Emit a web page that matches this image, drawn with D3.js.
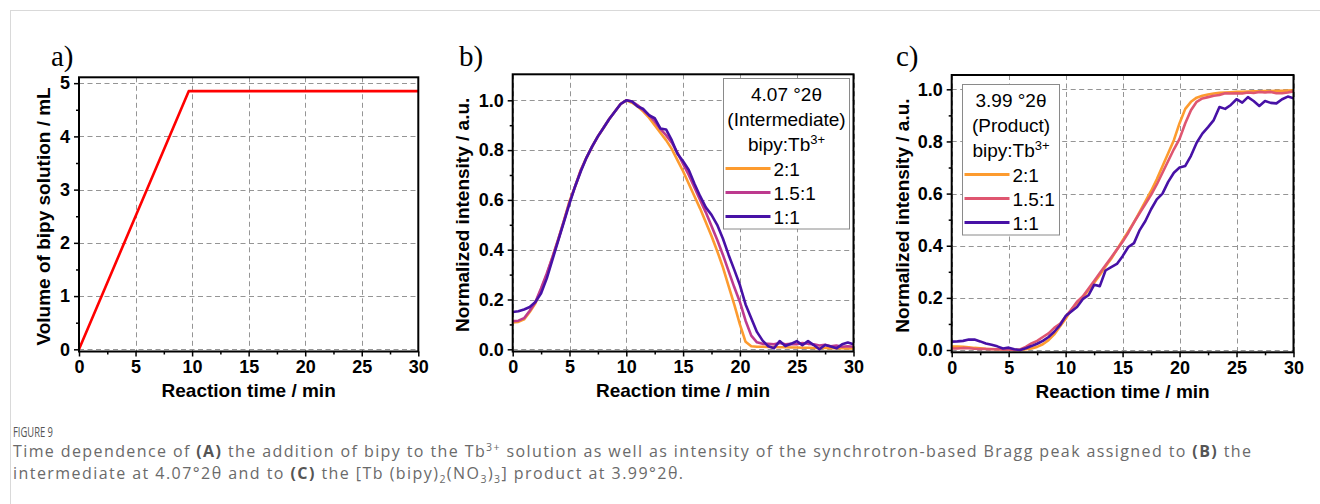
<!DOCTYPE html>
<html>
<head>
<meta charset="utf-8">
<script src="https://cdn.jsdelivr.net/npm/d3@7"></script>
<style>
  html, body { margin: 0; padding: 0; background: #fff; }
  svg { display: block; }
</style>
</head>
<body>
<svg id="chart" width="1320" height="504"></svg>
<script>
// ---------------- DATA ----------------
const times = [0,0.5,1,1.5,2,2.5,3,3.5,4,4.5,5,5.5,6,6.5,7,7.5,8,8.5,9,9.5,10,10.5,11,11.5,12,12.5,13,13.5,14,14.5,15,15.5,16,16.5,17,17.5,18,18.5,19,19.5,20,20.5,21,21.5,22,22.5,23,23.5,24,24.5,25,25.5,26,26.5,27,27.5,28,28.5,29,29.5,30];

// Panel a: volume of bipy solution added (mL)
const volTime = [0, 9.7, 30];
const volValue = [0, 4.85, 4.85];

// Panel b: intermediate peak 4.07 °2θ
const interRatio21 = [0.108,0.110,0.120,0.150,0.185,0.240,0.300,0.370,0.440,0.515,0.595,0.655,0.720,0.770,0.815,0.855,0.890,0.925,0.955,0.985,1.000,0.990,0.975,0.955,0.930,0.900,0.870,0.840,0.805,0.760,0.715,0.665,0.615,0.565,0.510,0.455,0.395,0.330,0.255,0.180,0.100,0.030,0.012,0.010,0.010,0.009,0.009,0.008,0.008,0.007,0.007,0.006,0.006,0.005,0.005,0.005,0.004,0.004,0.004,0.003,0.003];
const interRatio151 = [0.113,0.115,0.125,0.155,0.190,0.245,0.305,0.370,0.440,0.515,0.590,0.655,0.720,0.770,0.815,0.855,0.890,0.925,0.955,0.985,1.000,0.995,0.980,0.960,0.940,0.915,0.885,0.860,0.830,0.790,0.745,0.700,0.650,0.600,0.550,0.495,0.440,0.380,0.315,0.250,0.190,0.115,0.055,0.028,0.022,0.022,0.020,0.025,0.020,0.022,0.020,0.025,0.022,0.020,0.015,0.018,0.012,0.015,0.010,0.012,0.010];
const interRatio11 = [0.150,0.153,0.160,0.170,0.190,0.225,0.285,0.360,0.435,0.510,0.585,0.655,0.715,0.770,0.815,0.855,0.890,0.925,0.955,0.985,1.000,0.995,0.975,0.965,0.940,0.928,0.887,0.883,0.840,0.785,0.755,0.720,0.665,0.615,0.570,0.540,0.500,0.445,0.380,0.320,0.258,0.180,0.125,0.070,0.035,0.012,0.004,0.033,0.013,0.022,0.033,0.017,0.033,0.017,0.000,0.017,0.011,0.004,0.020,0.027,0.020];

// Panel c: product peak 3.99 °2θ
const prodRatio21 = [0.013,0.013,0.012,0.010,0.008,0.007,0.005,0.004,0.003,0.002,0.002,0.000,0.000,0.003,0.006,0.012,0.022,0.038,0.060,0.090,0.120,0.155,0.180,0.200,0.230,0.258,0.288,0.320,0.350,0.385,0.420,0.455,0.490,0.530,0.570,0.610,0.655,0.705,0.755,0.805,0.870,0.925,0.952,0.968,0.975,0.980,0.984,0.987,0.988,0.989,0.990,0.990,0.991,0.992,0.992,0.993,0.993,0.994,0.994,0.995,0.996];
const prodRatio151 = [0.006,0.006,0.008,0.007,0.005,0.004,0.004,0.003,0.003,0.002,0.002,0.000,0.002,0.012,0.025,0.035,0.050,0.064,0.085,0.100,0.128,0.155,0.185,0.205,0.235,0.265,0.295,0.325,0.355,0.385,0.415,0.450,0.490,0.525,0.560,0.595,0.635,0.680,0.725,0.770,0.810,0.870,0.920,0.952,0.965,0.970,0.975,0.978,0.985,0.984,0.985,0.984,0.988,0.986,0.990,0.988,0.990,0.985,0.985,0.988,0.992];
const prodRatio11 = [0.032,0.033,0.035,0.040,0.040,0.033,0.025,0.020,0.014,0.006,0.009,0.003,0.000,0.007,0.015,0.024,0.035,0.050,0.070,0.095,0.130,0.148,0.165,0.195,0.210,0.250,0.245,0.305,0.318,0.330,0.360,0.395,0.410,0.460,0.495,0.540,0.578,0.600,0.645,0.680,0.700,0.706,0.745,0.795,0.830,0.855,0.882,0.932,0.925,0.940,0.962,0.949,0.970,0.955,0.936,0.955,0.948,0.946,0.962,0.972,0.966];

const xTicks = [0,5,10,15,20,25,30];
const xMinor = [2.5,7.5,12.5,17.5,22.5,27.5];
const volTicks = [0,1,2,3,4,5];
const volMinor = [0.5,1.5,2.5,3.5,4.5];
const intTicks = [0,0.2,0.4,0.6,0.8,1.0];
const intMinor = [0.1,0.3,0.5,0.7,0.9];

const ratioLabels = ["2:1","1.5:1","1:1"];

// ---------------- DRAW ----------------
const svg = d3.select("#chart");
svg.append("rect").attr("width",1320).attr("height",504).attr("fill","#fff");
// page frame lines
svg.append("line").attr("x1",10).attr("x2",1320).attr("y1",10.5).attr("y2",10.5).attr("stroke","#d9d9d9").attr("stroke-width",1);
svg.append("line").attr("x1",10.5).attr("x2",10.5).attr("y1",10).attr("y2",504).attr("stroke","#d9d9d9").attr("stroke-width",1);

const FONT = "'Liberation Sans', Arial, sans-serif";

function panel(cfg) {
  const g = svg.append("g");
  const x = d3.scaleLinear().domain([0,30]).range([cfg.left, cfg.right]);
  const y = d3.scaleLinear().domain(cfg.yDomain).range([cfg.bottom, cfg.top]);

  // grid
  const grid = g.append("g").attr("stroke","#959595").attr("stroke-width",1).attr("stroke-dasharray","5,3.5");
  grid.selectAll("line.v").data(xTicks).join("line")
    .attr("x1", d => Math.round(x(d))+0.5).attr("x2", d => Math.round(x(d))+0.5)
    .attr("y1", cfg.top).attr("y2", cfg.bottom);
  grid.selectAll("line.h").data(cfg.yTicks).join("line")
    .attr("y1", d => Math.round(y(d))+0.5).attr("y2", d => Math.round(y(d))+0.5)
    .attr("x1", cfg.left).attr("x2", cfg.right);

  // axes
  const xAxis = g.append("g").attr("transform",`translate(0,${cfg.bottom})`)
    .call(d3.axisBottom(x).tickValues(xTicks).tickSize(5).tickPadding(4).tickFormat(d3.format("d")));
  g.append("g").attr("transform",`translate(0,${cfg.bottom})`)
    .call(d3.axisBottom(x).tickValues(xMinor).tickSize(3).tickFormat(""));
  g.append("g").attr("transform",`translate(${cfg.left},0)`)
    .call(d3.axisLeft(y).tickValues(cfg.yTicks).tickSize(5).tickPadding(4).tickFormat(cfg.yFormat));
  g.append("g").attr("transform",`translate(${cfg.left},0)`)
    .call(d3.axisLeft(y).tickValues(cfg.yMinor).tickSize(3).tickFormat(""));
  g.selectAll(".domain").remove();
  g.selectAll(".tick line").attr("stroke","#000").attr("stroke-width",1.5);
  g.selectAll(".tick text").attr("font-family",FONT).attr("font-weight","bold").attr("font-size","18px").attr("fill","#000");
  xAxis.selectAll(".tick text").attr("dy","0.71em");

  // data lines
  const line = d3.line().x(d => x(d[0])).y(d => y(d[1]));
  cfg.series.forEach(s => {
    g.append("path").datum(s.t.map((t,i) => [t, s.v[i]]))
      .attr("d", line).attr("fill","none").attr("stroke", s.color)
      .attr("stroke-width", 2.6).attr("stroke-linejoin","round");
  });

  // frame
  g.append("rect").attr("x",cfg.left).attr("y",cfg.top)
    .attr("width",cfg.right-cfg.left).attr("height",cfg.bottom-cfg.top)
    .attr("fill","none").attr("stroke","#000").attr("stroke-width",2);

  // axis titles
  g.append("text").attr("x",(cfg.left+cfg.right)/2).attr("y",cfg.bottom+45.5)
    .attr("text-anchor","middle").attr("font-family",FONT).attr("font-weight","bold")
    .attr("font-size","19px").text("Reaction time / min");
  g.append("text").attr("transform",`translate(${cfg.yTitleX},${(cfg.top+cfg.bottom)/2+2}) rotate(-90)`)
    .attr("text-anchor","middle").attr("font-family",FONT).attr("font-weight","bold")
    .attr("font-size","19px").text(cfg.yTitle);

  // panel letter
  g.append("text").attr("x",cfg.letterX).attr("y",65.5)
    .attr("font-family","'Liberation Serif', 'Times New Roman', serif")
    .attr("font-size","29px").text(cfg.letter);

  // legend
  if (cfg.legend) {
    const L = cfg.legend;
    const lg = g.append("g");
    lg.append("rect").attr("x",L.x).attr("y",L.y).attr("width",L.w).attr("height",L.h)
      .attr("fill","#fff").attr("stroke","#8a8a8a").attr("stroke-width",1);
    const cx = L.x + L.w/2;
    const head = lg.append("g").attr("font-family",FONT).attr("font-size","19px").attr("fill","#000").attr("text-anchor","middle");
    head.append("text").attr("x",cx).attr("y",L.y+22).text(L.title1);
    head.append("text").attr("x",cx).attr("y",L.y+47).text(L.title2);
    const t3 = head.append("text").attr("x",cx).attr("y",L.y+72);
    t3.append("tspan").text("bipy:Tb");
    t3.append("tspan").attr("font-size","13px").attr("dy","-7").text("3+");
    cfg.series.forEach((s,i) => {
      const yy = L.y + 90 + i*24;
      lg.append("line").attr("x1",L.x+2).attr("x2",L.x+47).attr("y1",yy).attr("y2",yy)
        .attr("stroke",s.color).attr("stroke-width",2.8);
      lg.append("text").attr("x",L.x+50).attr("y",yy+7).attr("font-family",FONT)
        .attr("font-size","19px").text(ratioLabels[i]);
    });
  }
}

const ORANGE = "#fd9b2f", MAGENTA = "#bd3a8e", PINK = "#df5670", PURPLE = "#4711a6";

panel({
  left: 79, right: 418.3, top: 77.3, bottom: 351.5,
  yDomain: [-0.041, 5.11], yTicks: volTicks, yMinor: volMinor, yFormat: d3.format("d"),
  yTitle: "Volume of bipy solution / mL", yTitleX: 50, letter: "a)", letterX: 51,
  series: [{t: volTime, v: volValue, color: "#ff0000"}]
});

panel({
  left: 512.7, right: 853.5, top: 74.3, bottom: 351.5,
  yDomain: [-0.0088, 1.1044], yTicks: intTicks, yMinor: intMinor, yFormat: d3.format(".1f"),
  yTitle: "Normalized intensity / a.u.", yTitleX: 469, letter: "b)", letterX: 459,
  series: [
    {t: times, v: interRatio21, color: ORANGE},
    {t: times, v: interRatio151, color: MAGENTA},
    {t: times, v: interRatio11, color: PURPLE}
  ],
  legend: {x: 723.5, y: 78.5, w: 126, h: 150.5, title1: "4.07 °2θ", title2: "(Intermediate)"}
});

panel({
  left: 951.7, right: 1293.5, top: 75, bottom: 352.3,
  yDomain: [-0.0088, 1.0549], yTicks: intTicks, yMinor: intMinor, yFormat: d3.format(".1f"),
  yTitle: "Normalized intensity / a.u.", yTitleX: 909, letter: "c)", letterX: 896,
  series: [
    {t: times, v: prodRatio21, color: ORANGE},
    {t: times, v: prodRatio151, color: PINK},
    {t: times, v: prodRatio11, color: PURPLE}
  ],
  legend: {x: 962.5, y: 84.5, w: 97, h: 150.5, title1: "3.99 °2θ", title2: "(Product)"}
});

// ---------------- CAPTION ----------------
const CAP = "'Open Sans', 'Noto Sans', sans-serif";
svg.append("text").attr("x",13).attr("y",437).attr("font-family",CAP).attr("font-size","14px")
  .attr("fill","#555").attr("textLength",40).attr("lengthAdjust","spacingAndGlyphs").text("FIGURE 9");

const cap1 = svg.append("text").attr("x",13).attr("y",457).attr("font-family",CAP).attr("font-size","16px")
  .attr("textLength",1238).attr("lengthAdjust","spacing").attr("fill","#6a6a6a");
cap1.append("tspan").text("Time dependence of ");
cap1.append("tspan").attr("font-weight","bold").attr("fill","#555").text("(A)");
cap1.append("tspan").text(" the addition of bipy to the Tb");
cap1.append("tspan").attr("font-size","10.5px").attr("dy","-6").text("3+");
cap1.append("tspan").attr("dy","6").text(" solution as well as intensity of the synchrotron-based Bragg peak assigned to ");
cap1.append("tspan").attr("font-weight","bold").attr("fill","#555").text("(B)");
cap1.append("tspan").text(" the");

const cap2 = svg.append("text").attr("x",13).attr("y",479).attr("font-family",CAP).attr("font-size","16px")
  .attr("textLength",670).attr("lengthAdjust","spacing").attr("fill","#6a6a6a");
cap2.append("tspan").text("intermediate at 4.07°2θ and to ");
cap2.append("tspan").attr("font-weight","bold").attr("fill","#555").text("(C)");
cap2.append("tspan").text(" the [Tb (bipy)");
cap2.append("tspan").attr("font-size","10.5px").attr("dy","4").text("2");
cap2.append("tspan").attr("dy","-4").text("(NO");
cap2.append("tspan").attr("font-size","10.5px").attr("dy","4").text("3");
cap2.append("tspan").attr("dy","-4").text(")");
cap2.append("tspan").attr("font-size","10.5px").attr("dy","4").text("3");
cap2.append("tspan").attr("dy","-4").text("] product at 3.99°2θ.");
</script>
</body>
</html>
